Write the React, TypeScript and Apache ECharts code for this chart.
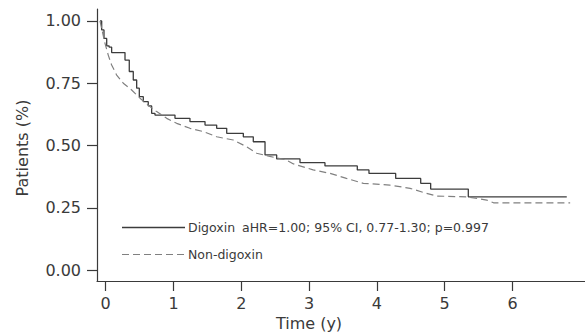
import React, { useEffect, useRef } from "react";
import * as echarts from "echarts";

// Time (years) and survival proportion
const digoxinTime = [-0.084, -0.059, -0.025, 0.015, 0.05, 0.088, 0.285, 0.348, 0.407, 0.457, 0.496, 0.555, 0.628, 0.678, 0.727, 1.022, 1.243, 1.465, 1.637, 1.785, 2.03, 2.177, 2.35, 2.522, 2.866, 3.234, 3.711, 3.883, 4.277, 4.646, 4.793, 5.348, 6.8];
const digoxinSurv = [1.0, 0.964, 0.93, 0.9, 0.895, 0.873, 0.843, 0.797, 0.763, 0.73, 0.696, 0.676, 0.659, 0.629, 0.622, 0.609, 0.596, 0.582, 0.569, 0.549, 0.535, 0.515, 0.462, 0.446, 0.431, 0.418, 0.402, 0.388, 0.368, 0.348, 0.325, 0.294, 0.294];

const nonDigoxinTime = [-0.084, -0.01, 0.038, 0.088, 0.162, 0.26, 0.383, 0.506, 0.653, 0.752, 0.9, 1.047, 1.243, 1.44, 1.637, 1.882, 2.08, 2.227, 2.42, 2.65, 2.77, 3.06, 3.31, 3.55, 3.8, 4.19, 4.49, 4.73, 4.88, 5.32, 5.62, 5.72, 6.85];
const nonDigoxinSurv = [1.0, 0.91, 0.863, 0.823, 0.783, 0.75, 0.723, 0.69, 0.656, 0.636, 0.609, 0.589, 0.569, 0.556, 0.535, 0.522, 0.495, 0.469, 0.456, 0.443, 0.426, 0.402, 0.388, 0.368, 0.348, 0.341, 0.328, 0.308, 0.297, 0.294, 0.281, 0.27, 0.27];

const xTicks = [0, 1, 2, 3, 4, 5, 6];
const yTicks = [0, 0.25, 0.5, 0.75, 1.0];

const seriesNames = ["Digoxin", "Non-digoxin"];
const statText = "aHR=1.00; 95% CI, 0.77-1.30; p=0.997";
const xTitle = "Time (y)";
const yTitle = "Patients (%)";

const FONT = "DejaVu Sans";
const TEXT = "#3a3a3a";
const AXIS = "#3a3a3a";
const SOLID = "#3c3c3c";
const DASHED = "#808080";
const DASH = [7, 4];

export default function App() {
  const ref = useRef<HTMLDivElement>(null);
  useEffect(() => {
    if (!ref.current) return;
    const chart = echarts.init(ref.current, null, { renderer: "svg" });
    const legendText = (text: string, x: number, y: number) => ({
      type: "text",
      x,
      y,
      style: { text, fontFamily: FONT, fontSize: 12.5, fill: TEXT, align: "left", verticalAlign: "middle" },
    });
    const option: any = {
      animation: false,
      backgroundColor: "#ffffff",
      grid: { left: 97, right: 0, top: 9, bottom: 54 },
      xAxis: {
        type: "value",
        min: -0.128,
        max: 7.069,
        splitLine: { show: false },
        axisLine: { show: true, onZero: false, lineStyle: { color: AXIS, width: 1.2 } },
        axisTick: { show: true, length: 10, customValues: xTicks, lineStyle: { color: AXIS, width: 1.2 } },
        axisLabel: {
          customValues: xTicks,
          margin: 14,
          fontFamily: FONT,
          fontSize: 16,
          color: TEXT,
          formatter: (v: number) => String(Math.round(v)),
        },
      },
      yAxis: {
        type: "value",
        min: -0.044,
        max: 1.048,
        splitLine: { show: false },
        axisLine: { show: true, onZero: false, lineStyle: { color: AXIS, width: 1.2 } },
        axisTick: { show: true, length: 10, customValues: yTicks, lineStyle: { color: AXIS, width: 1.2 } },
        axisLabel: {
          customValues: yTicks,
          margin: 16,
          fontFamily: FONT,
          fontSize: 16,
          color: TEXT,
          formatter: (v: number) => v.toFixed(2),
        },
      },
      graphic: [
        {
          type: "text",
          x: 22,
          y: 148,
          rotation: Math.PI / 2,
          style: {
            text: yTitle,
            fontFamily: FONT,
            fontSize: 16,
            fill: TEXT,
            align: "center",
            verticalAlign: "middle",
          },
        },
        {
          type: "text",
          x: 309,
          y: 323,
          style: {
            text: xTitle,
            fontFamily: FONT,
            fontSize: 16,
            fill: TEXT,
            align: "center",
            verticalAlign: "middle",
          },
        },
        {
          type: "line",
          shape: { x1: 122, y1: 227.5, x2: 185, y2: 227.5 },
          style: { stroke: SOLID, lineWidth: 1.3 },
        },
        {
          type: "line",
          shape: { x1: 122, y1: 254.5, x2: 185, y2: 254.5 },
          style: { stroke: DASHED, lineWidth: 1.2, lineDash: DASH },
        },
        legendText(seriesNames[0], 188, 227),
        legendText(statText, 242, 227),
        legendText(seriesNames[1], 188, 254),
      ],
      series: [
        {
          name: seriesNames[0],
          type: "line",
          step: "end",
          symbol: "none",
          data: digoxinTime.map((t, i) => [t, digoxinSurv[i]]),
          lineStyle: { color: SOLID, width: 1.3, type: "solid" },
          itemStyle: { color: SOLID },
        },
        {
          name: seriesNames[1],
          type: "line",
          symbol: "none",
          data: nonDigoxinTime.map((t, i) => [t, nonDigoxinSurv[i]]),
          lineStyle: { color: DASHED, width: 1.2, type: DASH },
          itemStyle: { color: DASHED },
        },
      ],
    };
    chart.setOption(option);
    return () => chart.dispose();
  }, []);
  return (
    <div
      ref={ref}
      style={{ position: "fixed", left: 0, top: 0, width: 585, height: 335 }}
    />
  );
}
